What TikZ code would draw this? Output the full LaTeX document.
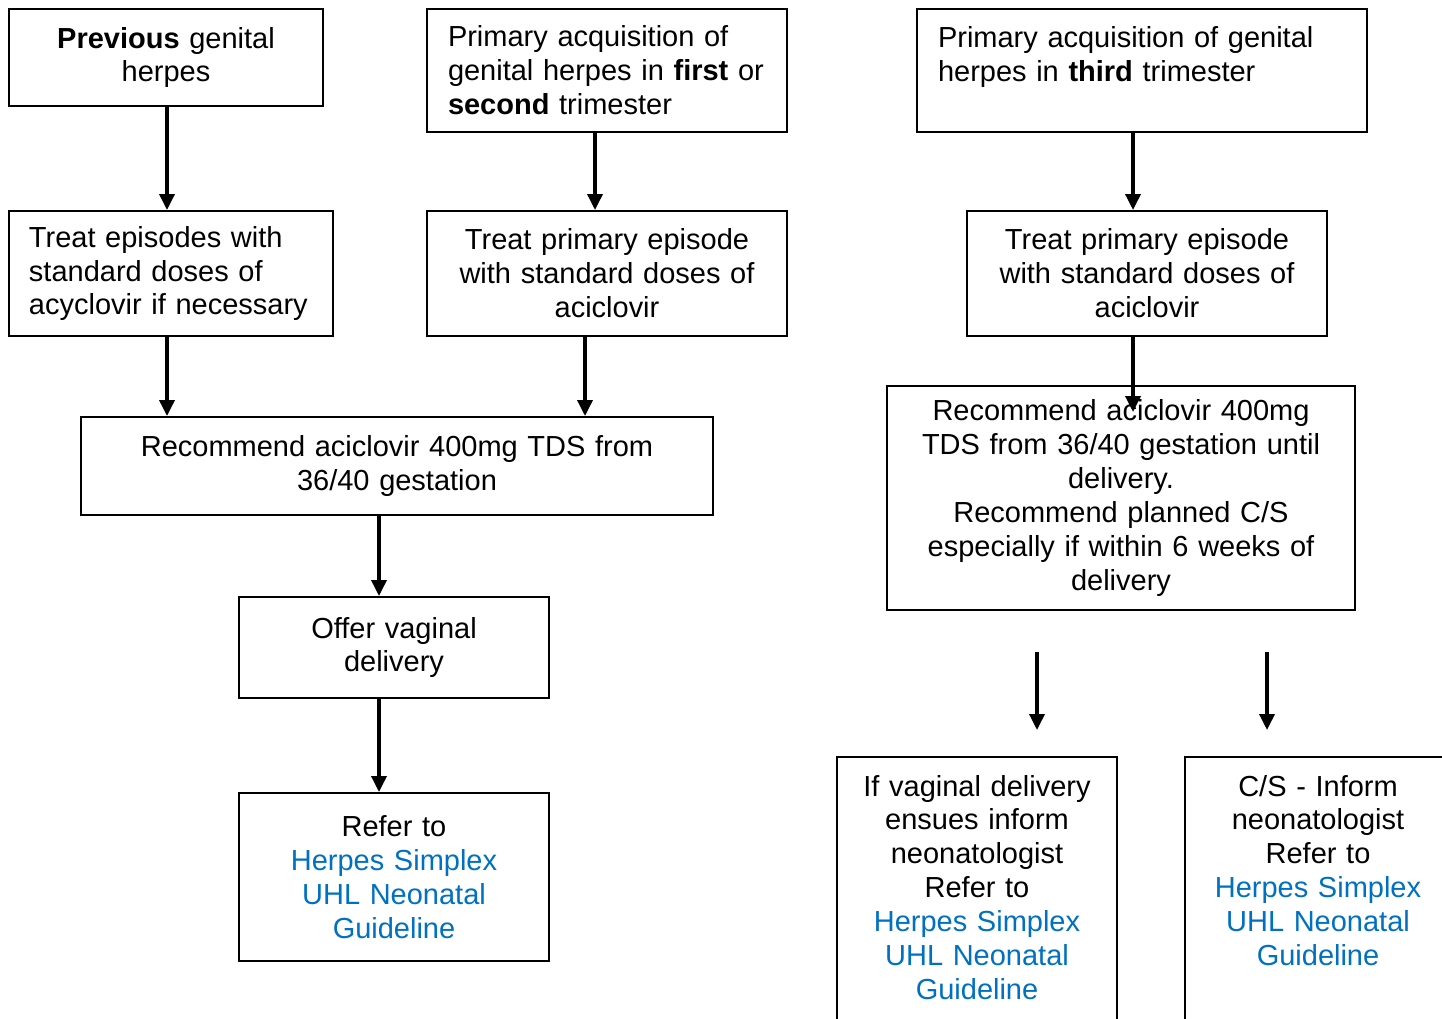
\documentclass[tikz,border=0pt]{standalone}
\usepackage{fontspec}
\setmainfont{Liberation Sans}
\usetikzlibrary{arrows.meta}
\definecolor{linkblue}{HTML}{0070C0}
\newlength\px \setlength\px{0.02cm}
\newcommand\guidelink{\color{linkblue}Herpes Simplex\\UHL Neonatal\\Guideline}
\tikzset{
  box/.style={draw, line width=2\px, align=center, inner xsep=10\px, inner ysep=0pt},
  lbox/.style={box, align=left, inner xsep=21\px},
  arr/.style={line width=0.7mm, -{Triangle[length=3.2mm,width=3mm]}}
}
\begin{document}
\begin{tikzpicture}[x=0.02cm,y=-0.02cm,font=\fontsize{16.5}{19.3}\selectfont]
	\clip (0,0) rectangle (1442,1018);
	% top row
	\node[box, text width=294\px, minimum height=97\px] (prev) at (166,57.5) {\textbf{Previous} genital\\herpes};
	\node[lbox, text width=318\px, minimum height=123\px] (first) at (607,70.5) {Primary acquisition of\\genital herpes in \textbf{first} or\\\textbf{second} trimester};
	\node[lbox, text width=408\px, minimum height=123\px] (third) at (1142,70.5) {Primary acquisition of genital\\herpes in \textbf{third} trimester\\\mbox{}};
	% treatment
	\node[lbox, inner xsep=20\px, text width=284\px, minimum height=125\px] (treatA) at (171,273.5) {Treat episodes with\\standard doses of\\acyclovir if necessary};
	\node[box, text width=340\px, minimum height=125\px] (treatB) at (607,273.5) {Treat primary episode\\with standard doses of\\aciclovir};
	\node[box, text width=340\px, minimum height=125\px] (treatC) at (1147,273.5) {Treat primary episode\\with standard doses of\\aciclovir};
	% recommendations
	\node[box, text width=612\px, minimum height=98\px] (rec) at (397,466) {Recommend aciclovir 400mg TDS from\\36/40 gestation};
	\node[box, text width=448\px, minimum height=224\px] (recC) at (1121,498) {Recommend aciclovir 400mg\\TDS from 36/40 gestation until\\delivery.\\Recommend planned C/S\\especially if within 6 weeks of\\delivery};
	\node[box, text width=290\px, minimum height=101\px] (offer) at (394,647.5) {Offer vaginal\\delivery};
	\node[box, text width=290\px, minimum height=168\px] (refer) at (394,877) {Refer to\\\guidelink};
	% bottom right, cut off by the page
	\node[box, anchor=north, inner ysep=18\px, text width=260\px] (vag) at (977,756) {If vaginal delivery\\ensues inform\\neonatologist\\Refer to\\\guidelink\\\mbox{}};
	\node[box, anchor=north, inner ysep=18\px, text width=246\px] (cs) at (1318,756) {C/S - Inform\\neonatologist\\Refer to\\\guidelink\\\mbox{}\\\mbox{}};
	% arrows
	\draw[arr] (prev.south -| 167,0) -- (treatA.north -| 167,0);
	\draw[arr] (first.south -| 595,0) -- (treatB.north -| 595,0);
	\draw[arr] (third.south -| 1133,0) -- (treatC.north -| 1133,0);
	\draw[arr] (treatA.south -| 167,0) -- (rec.north -| 167,0);
	\draw[arr] (treatB.south -| 585,0) -- (rec.north -| 585,0);
	\coordinate (recCin) at (1133,412);
	\draw[arr] (treatC.south -| recCin) -- (recCin); % tip runs into the box
	\draw[arr] (rec.south -| 379,0) -- (offer.north -| 379,0);
	\draw[arr] (offer.south -| 379,0) -- (refer.north -| 379,0);
	\coordinate (vagfrom) at (1037,652); \coordinate (vagto) at (1037,730);
	\coordinate (csfrom) at (1267,652); \coordinate (csto) at (1267,730);
	\draw[arr] (vagfrom) -- (vagto);
	\draw[arr] (csfrom) -- (csto);
\end{tikzpicture}
\end{document}
